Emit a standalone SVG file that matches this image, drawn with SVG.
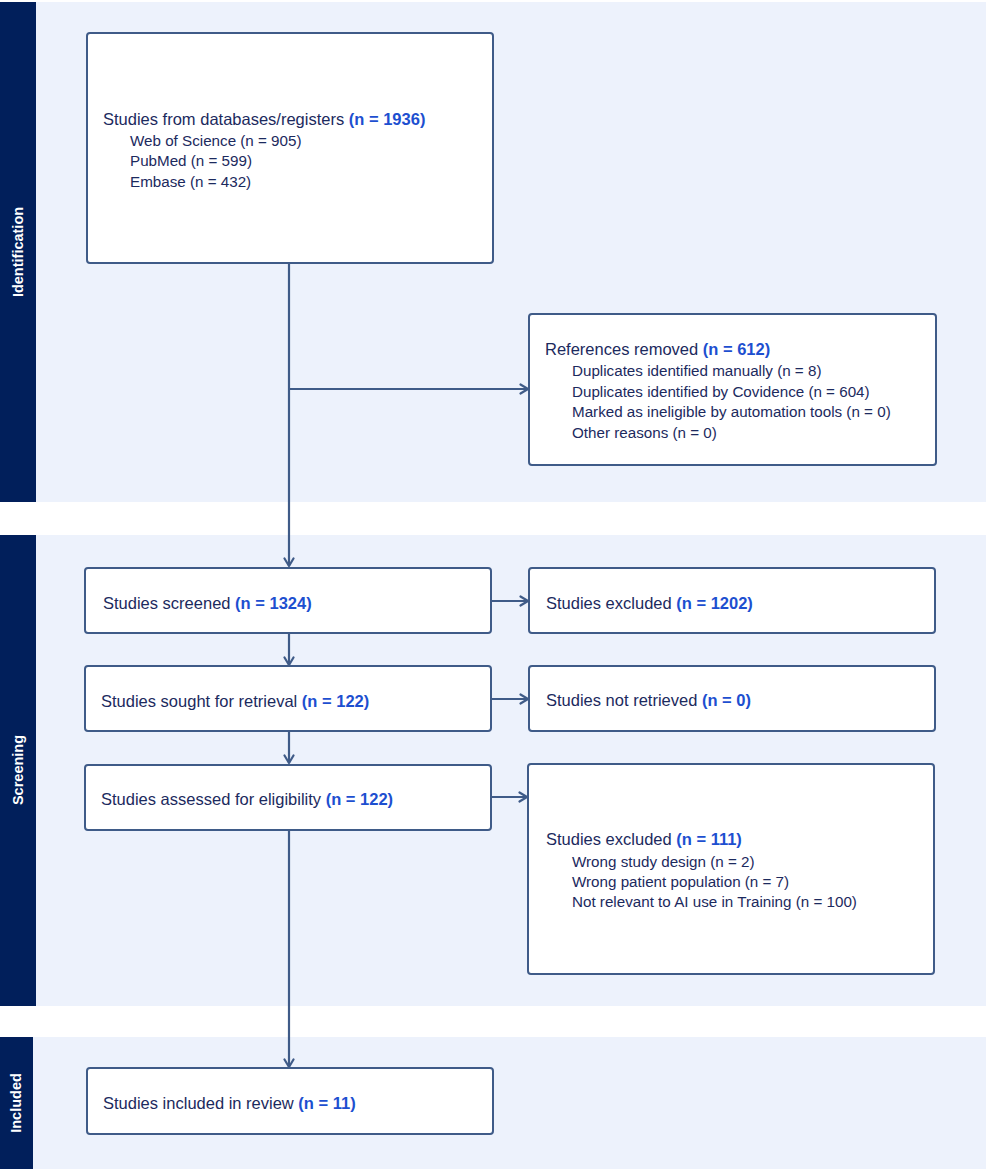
<svg xmlns="http://www.w3.org/2000/svg" width="986" height="1169" viewBox="0 0 986 1169">
<defs>
<marker id="arr" viewBox="0 0 12 12" refX="10.5" refY="6" markerWidth="12" markerHeight="12" markerUnits="userSpaceOnUse" orient="auto">
<path d="M3,1.5 L10.5,6 L3,10.5" fill="none" stroke="#3f5b88" stroke-width="2.2" stroke-linecap="round" stroke-linejoin="round"/>
</marker>
</defs>
<style>
.band{fill:#edf2fc}
.side{fill:#011f5b}
.sidet{font-family:"Liberation Sans",Arial,sans-serif;font-size:14.5px;font-weight:bold;fill:#ffffff}
.box{fill:#ffffff;stroke:#3f5b88;stroke-width:2}
.t{font-family:"Liberation Sans",Arial,sans-serif;font-size:16.5px;fill:#1c2a5e}
.s{font-family:"Liberation Sans",Arial,sans-serif;font-size:15.2px;fill:#1c2a5e}
.n{font-weight:bold;fill:#1d4fd0}
.c{fill:none;stroke:#3f5b88;stroke-width:2.2}
</style>
<rect width="986" height="1169" fill="#ffffff"/>
<g id="bands">
<rect class="band" x="36" y="2" width="950" height="500"/>
<rect class="band" x="36" y="535" width="950" height="471"/>
<rect class="band" x="33" y="1037" width="953" height="132"/>
</g>
<g id="lane-identification">
<rect class="side" x="0" y="2" width="36" height="500"/>
<text class="sidet" transform="translate(23,252) rotate(-90)" text-anchor="middle">Identification</text>
</g>
<g id="lane-screening">
<rect class="side" x="0" y="535" width="36" height="471"/>
<text class="sidet" transform="translate(23,770) rotate(-90)" text-anchor="middle">Screening</text>
</g>
<g id="lane-included">
<rect class="side" x="0" y="1037" width="33" height="132"/>
<text class="sidet" transform="translate(21,1103) rotate(-90)" text-anchor="middle">Included</text>
</g>
<g id="connectors">
<line class="c" x1="289" y1="264" x2="289" y2="566" marker-end="url(#arr)"/>
<line class="c" x1="289" y1="389" x2="528" y2="389" marker-end="url(#arr)"/>
<line class="c" x1="492" y1="601" x2="528" y2="601" marker-end="url(#arr)"/>
<line class="c" x1="289" y1="634" x2="289" y2="665" marker-end="url(#arr)"/>
<line class="c" x1="492" y1="699" x2="528" y2="699" marker-end="url(#arr)"/>
<line class="c" x1="289" y1="732" x2="289" y2="763" marker-end="url(#arr)"/>
<line class="c" x1="492" y1="797" x2="527" y2="797" marker-end="url(#arr)"/>
<line class="c" x1="289" y1="831" x2="289" y2="1067" marker-end="url(#arr)"/>
</g>
<g id="node-databases">
<rect class="box" x="87" y="33" width="406" height="230" rx="3"/>
<text class="t" x="103" y="125">Studies from databases/registers <tspan class="n">(n = 1936)</tspan></text>
<text class="s" x="130" y="146">Web of Science (n = 905)</text>
<text class="s" x="130" y="166">PubMed (n = 599)</text>
<text class="s" x="130" y="187">Embase (n = 432)</text>
</g>
<g id="node-removed">
<rect class="box" x="529" y="314" width="407" height="151" rx="3"/>
<text class="t" x="545" y="355">References removed <tspan class="n">(n = 612)</tspan></text>
<text class="s" x="572" y="376">Duplicates identified manually (n = 8)</text>
<text class="s" x="572" y="397">Duplicates identified by Covidence (n = 604)</text>
<text class="s" x="572" y="417">Marked as ineligible by automation tools (n = 0)</text>
<text class="s" x="572" y="438">Other reasons (n = 0)</text>
</g>
<g id="node-screened">
<rect class="box" x="85" y="568" width="406" height="65" rx="3"/>
<text class="t" x="103" y="609">Studies screened <tspan class="n">(n = 1324)</tspan></text>
</g>
<g id="node-excluded1">
<rect class="box" x="529" y="568" width="406" height="65" rx="3"/>
<text class="t" x="546" y="609">Studies excluded <tspan class="n">(n = 1202)</tspan></text>
</g>
<g id="node-sought">
<rect class="box" x="85" y="666" width="406" height="65" rx="3"/>
<text class="t" x="101" y="707">Studies sought for retrieval <tspan class="n">(n = 122)</tspan></text>
</g>
<g id="node-notretrieved">
<rect class="box" x="529" y="666" width="406" height="65" rx="3"/>
<text class="t" x="546" y="706">Studies not retrieved <tspan class="n">(n = 0)</tspan></text>
</g>
<g id="node-assessed">
<rect class="box" x="85" y="765" width="406" height="65" rx="3"/>
<text class="t" x="101" y="805">Studies assessed for eligibility <tspan class="n">(n = 122)</tspan></text>
</g>
<g id="node-excluded2">
<rect class="box" x="528" y="764" width="406" height="210" rx="3"/>
<text class="t" x="546" y="845">Studies excluded <tspan class="n">(n = 111)</tspan></text>
<text class="s" x="572" y="867">Wrong study design (n = 2)</text>
<text class="s" x="572" y="887">Wrong patient population (n = 7)</text>
<text class="s" x="572" y="907">Not relevant to AI use in Training (n = 100)</text>
</g>
<g id="node-included">
<rect class="box" x="87" y="1068" width="406" height="66" rx="3"/>
<text class="t" x="103" y="1109">Studies included in review <tspan class="n">(n = 11)</tspan></text>
</g>
</svg>
